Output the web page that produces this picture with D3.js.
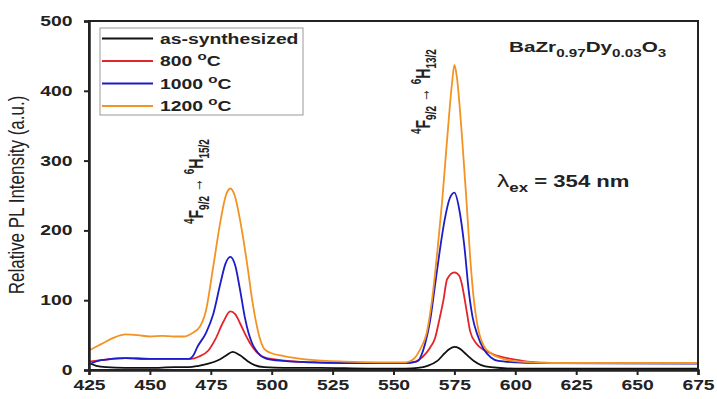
<!DOCTYPE html>
<html>
<head>
<meta charset="utf-8" />
<title>PL spectra</title>
<script src="https://cdn.jsdelivr.net/npm/d3@7"></script>
<style>
  body { margin: 0; background: #fff; }
  text { font-family: "Liberation Sans", Arial, sans-serif; }
</style>
</head>
<body>
<div id="container"></div>
<script>
// wavelength (nm), intensity (a.u.)
var asSynth = [[425,10],[428,6],[432,4],[440,3],[450,3],[460,4],[466,4],[470,6],[474,9],[478,14],[481,20],[484,26],[487,21],[490,13],[493,7],[497,4],[505,3],[520,3],[540,2],[555,2],[560,3],[564,6],[568,13],[571,24],[573,30],[575,33],[577,31],[580,22],[583,13],[586,7],[590,4],[600,2],[625,2],[650,2],[675,2]];
var t800 = [[425,12],[430,14],[440,17],[450,16],[460,16],[467,16],[470,19],[474,28],[477,45],[480,68],[483,84],[485,80],[487,67],[489,52],[491,39],[494,25],[497,18],[502,15],[510,12],[520,11],[540,10],[555,10],[559,12],[562,19],[565,32],[567,45],[569,75],[570.5,100],[572,130],[575,140],[577,135],[578,124],[580,85],[581.5,55],[584,38],[587,29],[590,24],[594,19],[600,15],[605,12],[615,10],[675,10]];
var t1000 = [[425,8],[430,14],[440,17],[450,16],[460,16],[466,16],[468,22],[469.5,33],[473,53],[476,80],[479,125],[481,152],[483,162],[485,150],[487,115],[489,75],[490.5,53],[492,38],[494.5,24],[498,16],[505,13],[515,11],[530,10],[555,10],[558,11],[560,13],[563,38],[565,70],[567,120],[569,171],[571,215],[573,245],[575,254],[577,230],[579,180],[581,110],[582.5,75],[584.5,50],[587,30],[590,18],[593,13],[600,11],[610,10],[675,9]];
var t1200 = [[425,28],[430,37],[435,46],[440,51],[445,50],[450,48],[455,49],[460,48],[464,48],[467,52],[470.5,62],[473,85],[476,148],[479,214],[481,248],[483,260],[485,248],[487,215],[488,195],[490,150],[492,100],[493.5,70],[495,47],[497,30],[500,24],[505,20],[515,15],[530,12],[545,11],[555,11],[558,15],[561,30],[563.7,54],[565.8,100],[568,170],[570,243],[572,330],[574,410],[575,437],[576,420],[578,340],[580,240],[581.5,160],[583,100],[585,55],[587,35],[590,24],[595,16],[602,12],[615,10],[675,10]];

var seriesNames = ['as-synthesized', '800 \u00B0C', '1000 \u00B0C', '1200 \u00B0C'];
var seriesColors = ['#111111', '#e3242b', '#1c1cc8', '#f39322'];
var seriesData = [asSynth, t800, t1000, t1200];
var xTicks = [425, 450, 475, 500, 525, 550, 575, 600, 625, 650, 675];
var yTicks = [0, 100, 200, 300, 400, 500];

var width = 717, height = 399;
var m = {left: 89, right: 19, top: 21, bottom: 29};
// the original figure's lettering is stretched sideways
var sx = 1.38;

var svg = d3.select('#container').append('svg')
  .attr('width', width).attr('height', height);

var x = d3.scaleLinear().domain([425, 675]).range([m.left, width - m.right]);
var y = d3.scaleLinear().domain([0, 500]).range([height - m.bottom, m.top]);

// curves
var line = d3.line()
  .x(function(d){ return x(d[0]); })
  .y(function(d){ return y(d[1]); })
  .curve(d3.curveMonotoneX);

var plot = svg.append('g');
seriesData.forEach(function(s, i){
  plot.append('path')
    .attr('d', line(s))
    .attr('fill', 'none')
    .attr('stroke', seriesColors[i])
    .attr('stroke-width', 1.8);
});

// frame
svg.append('rect')
  .attr('x', m.left).attr('y', m.top)
  .attr('width', width - m.left - m.right)
  .attr('height', height - m.top - m.bottom)
  .attr('fill', 'none').attr('stroke', '#222').attr('stroke-width', 2);

// axes
var xAxis = svg.append('g')
  .attr('transform', 'translate(0,' + (height - m.bottom) + ')')
  .call(d3.axisBottom(x).tickValues(xTicks).tickSize(5).tickPadding(5));
var yAxis = svg.append('g')
  .attr('transform', 'translate(' + m.left + ',0)')
  .call(d3.axisLeft(y).tickValues(yTicks).tickSize(5).tickPadding(7));
[xAxis, yAxis].forEach(function(a){
  a.select('.domain').attr('stroke', '#222').attr('stroke-width', 2.5);
  a.selectAll('.tick line').attr('stroke', '#222').attr('stroke-width', 2);
  a.selectAll('.tick text')
    .attr('fill', '#222')
    .attr('transform', 'scale(' + sx + ',1)')
    .style('font-family', '"Liberation Sans", Arial, sans-serif')
    .style('font-size', '14px').style('font-weight', 'bold');
});

svg.append('text')
  .attr('transform', 'translate(24,195) scale(1.3,1) rotate(-90)')
  .attr('text-anchor', 'middle')
  .style('font-size', '17px')
  .attr('fill', '#222')
  .text('Relative PL Intensity (a.u.)');

// legend
var lg = svg.append('g');
lg.append('rect')
  .attr('x', 100).attr('y', 28).attr('width', 203).attr('height', 87)
  .attr('fill', '#fff').attr('stroke', '#999').attr('stroke-width', 1);
seriesNames.forEach(function(n, i){
  var yy = 38.5 + i * 22.5;
  lg.append('line')
    .attr('x1', 102).attr('x2', 153).attr('y1', yy).attr('y2', yy)
    .attr('stroke', seriesColors[i]).attr('stroke-width', 1.8);
  var t = lg.append('text')
    .attr('transform', 'translate(160,' + (yy + 5) + ') scale(' + sx + ',1)')
    .style('font-size', '14px').style('font-weight', 'bold')
    .attr('fill', '#222');
  if (i === 0) {
    t.text(n);
  } else {
    var parts = n.split(' \u00B0');
    t.append('tspan').text(parts[0] + ' ');
    t.append('tspan').attr('dy', -6).style('font-size', '11px').text('o');
    t.append('tspan').attr('dy', 6).text(parts[1]);
  }
});

// formula
var f = svg.append('text')
  .attr('transform', 'translate(509,52) scale(' + sx + ',1)')
  .style('font-size', '15px').style('font-weight', 'bold')
  .attr('fill', '#222');
f.append('tspan').text('BaZr');
f.append('tspan').attr('dy', 5).style('font-size', '11px').text('0.97');
f.append('tspan').attr('dy', -5).text('Dy');
f.append('tspan').attr('dy', 5).style('font-size', '11px').text('0.03');
f.append('tspan').attr('dy', -5).text('O');
f.append('tspan').attr('dy', 5).style('font-size', '11px').text('3');

// excitation
var ex = svg.append('text')
  .attr('transform', 'translate(497,187) scale(1.3,1)')
  .style('font-size', '17px').style('font-weight', 'bold')
  .attr('fill', '#222');
ex.append('tspan').style('font-weight', 'normal').style('font-size', '19px').text('\u03BB');
ex.append('tspan').attr('dy', 5).style('font-size', '13px').text('ex');
ex.append('tspan').attr('dy', -5).text(' = 354 nm');

// transition labels
function transition(g, cx, cy, upper){
  var t = g.append('text')
    .attr('transform', 'translate(' + cx + ',' + cy + ') scale(1.45,1) rotate(-90)')
    .style('font-size', '14px').style('font-weight', 'bold')
    .attr('fill', '#222');
  t.append('tspan').attr('dy', -6).style('font-size', '10px').text('4');
  t.append('tspan').attr('dy', 6).text('F');
  t.append('tspan').attr('dy', 4).style('font-size', '10px').text('9/2');
  t.append('tspan').attr('dy', -4).style('font-weight', 'normal').text(' \u2192 ');
  t.append('tspan').attr('dy', -6).style('font-size', '10px').text('6');
  t.append('tspan').attr('dy', 6).text('H');
  t.append('tspan').attr('dy', 4).style('font-size', '10px').text(upper);
}
transition(svg, 203, 224, '15/2');
transition(svg, 430, 134, '13/2');
</script>
</body>
</html>
